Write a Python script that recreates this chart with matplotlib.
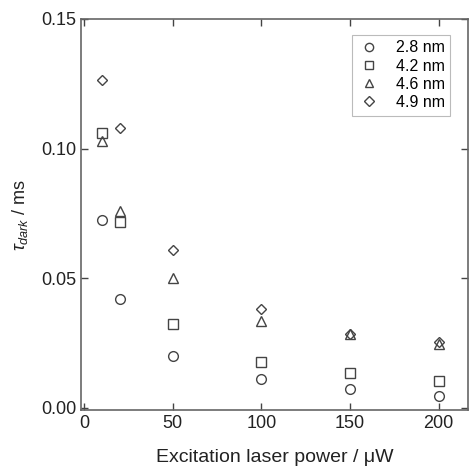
import matplotlib
matplotlib.use("Agg")
import matplotlib.pyplot as plt

plt.rcParams['font.family'] = ['Liberation Sans', 'DejaVu Sans']
plt.rcParams['mathtext.fontset'] = 'custom'
plt.rcParams['mathtext.rm'] = 'Liberation Sans'
plt.rcParams['mathtext.it'] = 'Liberation Sans:italic'

power = [10, 20, 50, 100, 150, 200]
labels = ['2.8 nm', '4.2 nm', '4.6 nm', '4.9 nm']
tau_28 = [0.0725, 0.0422, 0.0199, 0.0112, 0.0073, 0.0047]
tau_42 = [0.1061, 0.0717, 0.0323, 0.0176, 0.0135, 0.0103]
tau_46 = [0.1029, 0.0759, 0.0503, 0.0336, 0.0285, 0.0248]
tau_49 = [0.1263, 0.1078, 0.0609, 0.0381, 0.0285, 0.0253]

col = '#444444'
fig = plt.figure(figsize=(4.69, 4.73), dpi=100)
ax = fig.add_axes([81/469, 1 - 410/473, 387/469, 391/473])

series = [tau_28, tau_42, tau_46, tau_49]
markers = ['o', 's', '^', 'D']
sizes = [7, 7, 7, 5.5]
for y, m, s, lab in zip(series, markers, sizes, labels):
    ax.plot(power, y, m, ms=s, mfc='none', mec=col, mew=1.0, label=lab)

ax.set_xlim(-1.8, 216.5)
ax.set_ylim(-0.0008, 0.15)
ax.set_xticks([0, 50, 100, 150, 200])
ax.set_yticks([0.00, 0.05, 0.10, 0.15])
ax.set_yticklabels(['0.00', '0.05', '0.10', '0.15'])
ax.tick_params(direction='in', top=True, right=True, labelsize=13,
               colors=col, labelcolor='#222222', length=5, width=1)
for sp in ax.spines.values():
    sp.set_color('#666666')
    sp.set_linewidth(1.2)

ax.set_xlabel('Excitation laser power / \u03bcW', fontsize=14, color='#222222', labelpad=12)
ax.set_ylabel(r'$\tau_{dark}$ / ms', fontsize=13, color='#222222', labelpad=8)

leg = ax.legend(loc='upper right', bbox_to_anchor=(0.975, 0.98), fontsize=11.5,
                frameon=True, fancybox=False, edgecolor='#aaaaaa',
                handletextpad=1.0, labelspacing=0.2, borderpad=0.35,
                handlelength=1.4, markerscale=0.85)
leg.get_frame().set_linewidth(0.8)

fig.savefig('out.png', dpi=100)
